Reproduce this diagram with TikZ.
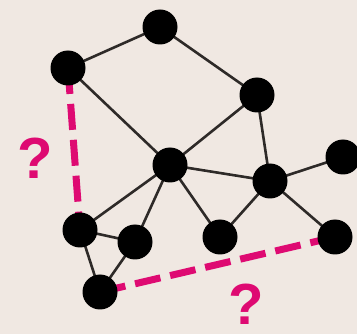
\documentclass[tikz,border=0pt]{standalone}
\usepackage{fontspec}
\setmainfont{Liberation Sans}
\definecolor{bg}{HTML}{F0E8E2}
\definecolor{mag}{HTML}{DE0A72}
\definecolor{edge}{HTML}{2E2A28}
\begin{document}
\begin{tikzpicture}[x=1pt,y=-1pt,
  vtx/.style={circle,fill=black,minimum size=35pt,inner sep=0pt},
  link/.style={draw=edge,line width=2.6pt},
  guess/.style={draw=mag,line width=7pt,dash pattern=on 26pt off 10pt},
  qmark/.style={text=mag,font=\bfseries\fontsize{58}{58}\selectfont,inner sep=0pt}]
\fill[bg] (0,0) rectangle (357,334);
\useasboundingbox (0,0) rectangle (357,334);
\coordinate (pA) at (160,27);
\coordinate (pB) at (68,68);
\coordinate (pC) at (257,95);
\coordinate (pD) at (170,165);
\coordinate (pE) at (270,181);
\coordinate (pF) at (343,157);
\coordinate (pG) at (335,237);
\coordinate (pH) at (80,230);
\coordinate (pI) at (135,242);
\coordinate (pJ) at (220,237);
\coordinate (pK) at (100,292);
\draw[guess] (pB) -- (pH);
\draw[guess] (pK) -- (pG);
\foreach \a/\b in {pA/pB,pA/pC,pB/pD,pC/pD,pC/pE,pD/pE,pE/pF,pE/pG,pE/pJ,pD/pJ,pD/pI,pD/pH,pH/pI,pH/pK,pI/pK}
  \draw[link] (\a) -- (\b);
\foreach \n in {A,B,C,D,E,F,G,H,I,J,K}
  \node[vtx] (\n) at (p\n) {};
\node[qmark] (q1) at (35,158) {?};
\node[qmark] (q2) at (246,304) {?};
\end{tikzpicture}
\end{document}
